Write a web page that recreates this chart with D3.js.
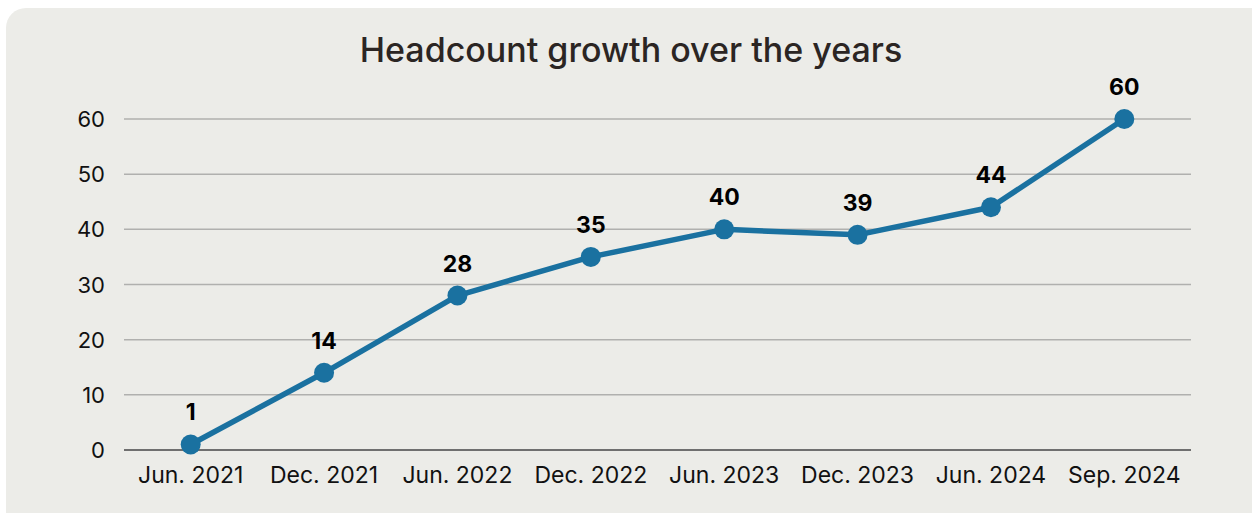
<!DOCTYPE html>
<html>
<head>
<meta charset="utf-8">
<script src="https://cdn.jsdelivr.net/npm/d3@7"></script>
<style>
  body { margin: 0; background: #ffffff; }
  svg { display: block; font-family: Inter, "Liberation Sans", sans-serif; }
</style>
</head>
<body>
<svg id="chart" width="1252" height="513"></svg>
<script>
// data
var periods = ['Jun. 2021', 'Dec. 2021', 'Jun. 2022', 'Dec. 2022', 'Jun. 2023', 'Dec. 2023', 'Jun. 2024', 'Sep. 2024'];
var headcount = [1, 14, 28, 35, 40, 39, 44, 60];
var yTicks = [0, 10, 20, 30, 40, 50, 60];

var svg = d3.select('#chart');

// panel background
svg.append('rect')
    .attr('x', 6).attr('y', 8)
    .attr('width', 1270).attr('height', 530)
    .attr('rx', 20)
    .attr('fill', '#ecece8');

var margin = { left: 124, right: 1191, top: 119, bottom: 450 };

var x = d3.scalePoint()
    .domain(periods)
    .range([margin.left, margin.right])
    .padding(0.5);

var y = d3.scaleLinear()
    .domain([0, 60])
    .range([margin.bottom, margin.top]);

// title
svg.append('text')
    .attr('x', 631).attr('y', 62)
    .attr('text-anchor', 'middle')
    .style('font-size', '34px')
    .style('font-weight', 500)
    .attr('fill', '#2b2523')
    .text('Headcount growth over the years');

// gridlines
svg.append('g')
    .selectAll('line')
    .data(yTicks).enter()
    .append('line')
    .attr('x1', margin.left).attr('x2', margin.right)
    .attr('y1', d => y(d)).attr('y2', d => y(d))
    .attr('stroke', d => d == 0 ? '#6f6f6f' : '#b0b0ae')
    .attr('stroke-width', d => d == 0 ? 2 : 1.5);

// y labels
svg.append('g')
    .selectAll('text')
    .data(yTicks).enter()
    .append('text')
    .attr('x', 105)
    .attr('y', d => y(d) + 8)
    .attr('text-anchor', 'end')
    .style('font-size', '22px')
    .attr('fill', '#111')
    .text(d => d);

// x labels
svg.append('g')
    .selectAll('text')
    .data(periods).enter()
    .append('text')
    .attr('x', d => x(d))
    .attr('y', 483)
    .attr('text-anchor', 'middle')
    .style('font-size', '23px')
    .attr('fill', '#111')
    .text(d => d);

// line
var line = d3.line()
    .x((d, i) => x(periods[i]))
    .y(d => y(d));

svg.append('path')
    .datum(headcount)
    .attr('d', line)
    .attr('fill', 'none')
    .attr('stroke', '#1a71a0')
    .attr('stroke-width', 5.5)
    .attr('stroke-linejoin', 'round');

svg.append('g')
    .selectAll('circle')
    .data(headcount).enter()
    .append('circle')
    .attr('cx', (d, i) => x(periods[i]))
    .attr('cy', d => y(d))
    .attr('r', 10)
    .attr('fill', '#1a71a0');

// value labels
svg.append('g')
    .selectAll('text')
    .data(headcount).enter()
    .append('text')
    .attr('x', (d, i) => x(periods[i]))
    .attr('y', d => y(d) - 24)
    .attr('text-anchor', 'middle')
    .style('font-size', '23px')
    .style('font-weight', 700)
    .attr('fill', '#000')
    .text(d => d);
</script>
</body>
</html>
